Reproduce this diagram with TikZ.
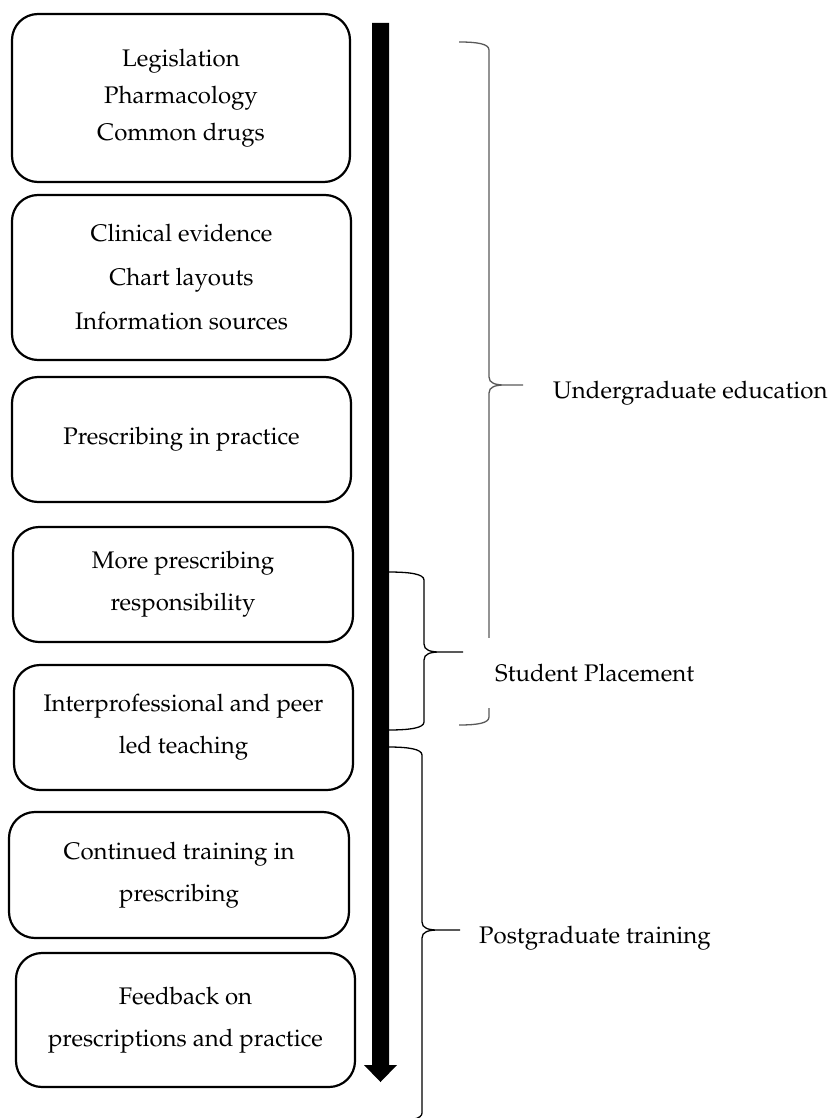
\documentclass[tikz,border=0pt]{standalone}
\usepackage[T1]{fontenc}
\renewcommand{\rmdefault}{ppl}
\begin{document}
\begin{tikzpicture}[x=1pt,y=-1pt,
  box/.style={draw, line width=2.2pt, rounded corners=26pt, align=center, inner sep=0pt, font=\fontsize{24}{42}\selectfont},
  lbl/.style={font=\fontsize{24}{30}\selectfont, inner sep=0pt, anchor=base west},
  brace/.style={line width=1.3pt}]
\useasboundingbox (0,0) rectangle (829,1118);

% boxes
\node[box, minimum width=338pt, minimum height=168pt, font=\fontsize{24}{37}\selectfont] (b1) at (181,98) {Legislation\\Pharmacology\\Common drugs};
\node[box, minimum width=339pt, minimum height=165pt, font=\fontsize{24}{44}\selectfont] (b2) at (181.5,277.5) {Clinical evidence\\Chart layouts\\Information sources};
\node[box, minimum width=339pt, minimum height=125pt] (b3) at (181.5,439.5) {Prescribing in practice};
\node[box, minimum width=340pt, minimum height=115pt] (b4) at (183,584.5) {More prescribing\\responsibility};
\node[box, minimum width=339pt, minimum height=125pt] (b5) at (183.5,727.5) {Interprofessional and peer\\led teaching};
\node[box, minimum width=340pt, minimum height=126pt] (b6) at (179,875) {Continued training in\\prescribing};
\node[box, minimum width=339pt, minimum height=134pt] (b7) at (185.5,1020) {Feedback on\\prescriptions and practice};

% timeline arrow
\fill (372,23) -- (389,23) -- (389,1065) -- (397,1065) -- (380.5,1082) -- (364,1065) -- (372,1065) -- cycle;

% braces
\draw[brace, draw=black!65] (459,42) .. controls (478,42) and (489,44) .. (489,50) -- (489,377)
   .. controls (489,383) and (495,385) .. (505,385) -- (523,385)
   (505,385) .. controls (495,385) and (489,387) .. (489,393) -- (489,717)
   .. controls (489,723) and (478,725) .. (459,725);
\draw[brace] (388,572) .. controls (410,572) and (424,574) .. (424,580) -- (424,644)
   .. controls (424,650) and (430,652) .. (440,652) -- (463,652)
   (440,652) .. controls (430,652) and (424,654) .. (424,660) -- (424,722)
   .. controls (424,728) and (410,730) .. (388,730);
\draw[brace] (388,747) .. controls (408,747) and (422,749) .. (422,755) -- (422,922)
   .. controls (422,928) and (428,930) .. (438,930) -- (460,930)
   (438,930) .. controls (428,930) and (422,932) .. (422,938) -- (422,1113)
   .. controls (422,1119) and (410,1121) .. (390,1121);

% labels
\node[lbl] (ug) at (553,398) {Undergraduate education};
\node[lbl, fill=white, inner xsep=9pt, minimum height=70pt] (sp) at (486,681) {Student Placement};
\node[lbl] (pg) at (479,943) {Postgraduate training};
\end{tikzpicture}
\end{document}
